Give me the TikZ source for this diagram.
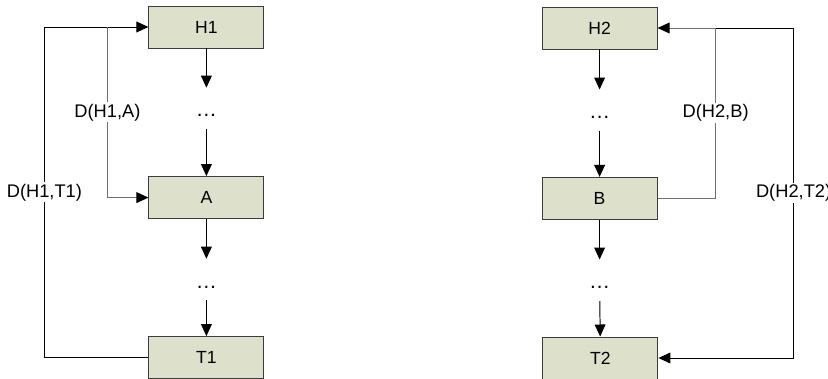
\documentclass[tikz,border=0pt]{standalone}
\usepackage{fontspec}
\setmainfont{Liberation Sans}
\usepackage{tikz}
\usetikzlibrary{arrows.meta, positioning, calc}
\definecolor{boxfill}{RGB}{221, 224, 203}
\definecolor{boxline}{RGB}{60, 60, 60}
\definecolor{linkgray}{RGB}{110, 110, 110}

\begin{document}
\begin{tikzpicture}[
  every node/.style={font=\fontsize{12.5pt}{15pt}\selectfont},
  listbox/.style={draw=boxline, fill=boxfill, line width=0.7pt,
    minimum width=2.875cm, minimum height=1.05cm, inner sep=0pt},
  gap/.style={inner sep=0pt, text height=0.725cm, text depth=0.3cm,
    font=\fontsize{15pt}{15pt}\selectfont},
  dist/.style={fill=white, inner sep=1pt, font=\fontsize{13pt}{15pt}\selectfont},
  flow/.style={-{Triangle[length=0.3cm, width=0.27cm, color=black]}, line width=0.7pt},
]
\useasboundingbox (0,0) rectangle (20.7,-9.475);

% ── List 1: H1 ... A ... T1 ─────────────────────────────────────
\node[listbox] (h1) at (5.16,-0.675) {H1};
\node[gap, anchor=base] (g1) at (5.16,-2.925) {\dots};
\node[listbox] (a) at (5.16,-4.94) {A};
\node[gap, anchor=base] (g2) at (5.16,-7.2) {\dots};
\node[listbox] (t1) at (5.16,-8.94) {T1};

\draw[flow] (h1) -- (g1);
\draw[flow] (g1) -- (a);
\draw[flow] (a) -- (g2);
\draw[flow] (g2) -- (t1);

% ── Distances from H1 ───────────────────────────────────────────
\draw[flow] (t1.west) -- ++(-2.6,0)
  |- node[pos=0.25, dist] {D(H1,T1)} (h1.west);
\draw[flow, linkgray] (h1.west) ++(-1.025,0)
  |- node[pos=0.25, dist, text=black] {D(H1,A)} (a.west);

% ── List 2: H2 ... B ... T2 ─────────────────────────────────────
\node[listbox] (h2) at (14.99,-0.7) {H2};
\node[gap, anchor=base] (g3) at (14.99,-2.97) {\dots};
\node[listbox] (b) at (14.99,-4.96) {B};
\node[gap, anchor=base] (g4) at (14.99,-7.22) {\dots};
\node[listbox] (t2) at (15.01,-8.95) {T2};

\draw[flow] (h2) -- (g3);
\draw[flow] (g3) -- (b);
\draw[flow] (b) -- (g4);
\draw[flow] (g4) -- (t2);

% ── Distances from H2 ───────────────────────────────────────────
\draw[flow, linkgray] (b.east) -- ++(1.45,0)
  |- node[pos=0.25, dist, text=black] {D(H2,B)} (h2.east);
\draw[flow] (h2.east) ++(1.45,0) -- ++(1.95,0)
  |- node[pos=0.25, dist] {D(H2,T2)} (t2.east);

\end{tikzpicture}
\end{document}
